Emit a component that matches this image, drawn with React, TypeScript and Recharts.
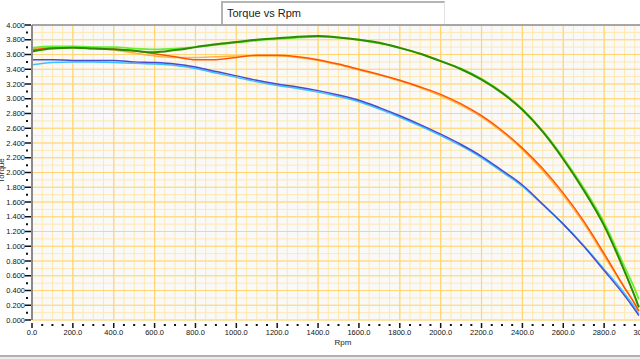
import { LineChart, Line, XAxis, YAxis, CartesianGrid, ReferenceLine } from "recharts";

// rpm sample points shared by every trace
const RPM = [
  0, 100, 200, 300, 400, 500, 600, 700, 800, 900, 1000, 1100, 1200, 1300, 1400, 1500,
  1600, 1700, 1800, 1900, 2000, 2100, 2200, 2300, 2400, 2500, 2600, 2700, 2800, 2900,
  2950, 2970,
];

const GREEN_DARK = [
  3.64, 3.68, 3.69, 3.68, 3.67, 3.65, 3.63, 3.66, 3.7, 3.74, 3.77, 3.8, 3.82, 3.84, 3.85, 3.83,
  3.8, 3.76, 3.69, 3.61, 3.51, 3.4, 3.26, 3.08, 2.85, 2.55, 2.18, 1.76, 1.28, 0.66, 0.32, 0.17,
];
const GREEN_LIGHT = [
  3.69, 3.71, 3.71, 3.7, 3.7, 3.68, 3.67, 3.68, 3.7, 3.73, 3.76, 3.79, 3.81, 3.83, 3.84, 3.83,
  3.8, 3.75, 3.69, 3.61, 3.51, 3.41, 3.27, 3.09, 2.86, 2.56, 2.2, 1.79, 1.32, 0.72, 0.42, 0.28,
];
const ORANGE = [
  3.66, 3.69, 3.7, 3.68, 3.67, 3.65, 3.61, 3.57, 3.53, 3.53, 3.56, 3.59, 3.59, 3.57, 3.53, 3.47,
  3.4, 3.33, 3.25, 3.16, 3.06, 2.93, 2.77, 2.57, 2.33, 2.05, 1.72, 1.34, 0.9, 0.44, 0.22, 0.12,
];
const ORANGE_LIGHT = [
  3.68, 3.7, 3.7, 3.69, 3.66, 3.62, 3.58, 3.56, 3.56, 3.57, 3.58, 3.58, 3.58, 3.56, 3.52, 3.46,
  3.39, 3.32, 3.24, 3.15, 3.04, 2.91, 2.75, 2.55, 2.31, 2.02, 1.69, 1.31, 0.87, 0.43, 0.22, 0.13,
];
const BLUE = [
  3.53, 3.53, 3.52, 3.52, 3.52, 3.5, 3.49, 3.47, 3.43, 3.37, 3.31, 3.25, 3.2, 3.16, 3.11, 3.05,
  2.98, 2.88, 2.77, 2.65, 2.52, 2.38, 2.22, 2.03, 1.83, 1.57, 1.3, 1.0, 0.67, 0.33, 0.14, 0.06,
];
const BLUE_LIGHT = [
  3.46, 3.49, 3.5, 3.5, 3.49, 3.48, 3.47, 3.45, 3.41, 3.35, 3.29, 3.23, 3.18, 3.14, 3.09, 3.03,
  2.96, 2.86, 2.75, 2.63, 2.5, 2.36, 2.2, 2.01, 1.81, 1.56, 1.3, 1.01, 0.69, 0.36, 0.17, 0.08,
];

const X_MAJOR = [
  0, 200, 400, 600, 800, 1000, 1200, 1400, 1600, 1800, 2000, 2200, 2400, 2600, 2800, 3000,
];
const Y_MAJOR = [
  0, 0.2, 0.4, 0.6, 0.8, 1.0, 1.2, 1.4, 1.6, 1.8, 2.0, 2.2, 2.4, 2.6, 2.8, 3.0, 3.2, 3.4, 3.6,
  3.8, 4.0,
];

// minor ticks: quarters between x majors, halves between y majors
const X_TICKS = X_MAJOR.flatMap((v, i) =>
  i < X_MAJOR.length - 1 ? [v, v + 50, v + 100, v + 150] : [v]
);
const Y_TICKS = Y_MAJOR.flatMap((v, i) =>
  i < Y_MAJOR.length - 1 ? [v, Math.round((v + 0.1) * 10) / 10] : [v]
);

const data = RPM.map((rpm, i) => ({
  rpm,
  g1: GREEN_DARK[i],
  g2: GREEN_LIGHT[i],
  o1: ORANGE[i],
  o2: ORANGE_LIGHT[i],
  b1: BLUE[i],
  b2: BLUE_LIGHT[i],
}));

const FONT = '"Liberation Sans", Arial, sans-serif';
const MINOR_GRID = "#ffe9b0";
const MAJOR_GRID = "#ffd673";

const isMajor = (list: number[], v: number) => list.some((m) => Math.abs(m - v) < 1e-6);

function YTick(props: any) {
  const { x, y, payload } = props;
  const v = payload.value as number;
  if (!isMajor(Y_MAJOR, v)) {
    return <line x1={x - 6} x2={x - 4} y1={y} y2={y} stroke="#111" strokeWidth={2} />;
  }
  return (
    <g>
      <line x1={x - 7} x2={x - 1} y1={y} y2={y} stroke="#111" strokeWidth={1.5} />
      <text x={x - 7} y={y} dy={2.7} textAnchor="end" fontSize={7.5} fill="#111" fontFamily={FONT}>
        {v.toFixed(3)}
      </text>
    </g>
  );
}

function XTick(props: any) {
  const { x, y, payload } = props;
  const v = payload.value as number;
  if (!isMajor(X_MAJOR, v)) {
    return <rect x={x - 1} y={y + 4} width={2} height={2} fill="#111" />;
  }
  return (
    <g>
      <line x1={x} x2={x} y1={y + 3} y2={y + 8} stroke="#111" strokeWidth={1.5} />
      <text x={x} y={y + 15} textAnchor="middle" fontSize={7.5} fill="#111" fontFamily={FONT}>
        {v.toFixed(1)}
      </text>
    </g>
  );
}

export default function App() {
  return (
    <div
      style={{
        position: "absolute",
        left: 0,
        top: 0,
        width: 640,
        height: 359,
        overflow: "hidden",
        background: "#fff",
        fontFamily: FONT,
      }}
    >
      <LineChart
        width={660}
        height={359}
        data={data}
        margin={{ top: 25, right: 15, bottom: 0, left: 0 }}
      >
        <CartesianGrid fill="#f9f9f9" stroke={MINOR_GRID} strokeWidth={1} />
        <CartesianGrid
          fill="none"
          stroke={MAJOR_GRID}
          strokeWidth={1.2}
          verticalValues={X_MAJOR}
          horizontalValues={Y_MAJOR}
        />
        <XAxis
          type="number"
          dataKey="rpm"
          domain={[0, 3000]}
          ticks={X_TICKS}
          interval={0}
          height={39}
          tickSize={0}
          tickMargin={0}
          axisLine={false}
          tickLine={false}
          tick={<XTick />}
          allowDataOverflow
        />
        <YAxis
          type="number"
          domain={[0, 4]}
          ticks={Y_TICKS}
          interval={0}
          width={32}
          tickSize={0}
          tickMargin={0}
          axisLine={{ stroke: "#8a8a8a", strokeWidth: 2 }}
          tickLine={false}
          tick={<YTick />}
          allowDataOverflow
        />
        <ReferenceLine y={4} stroke="#a6a6a6" strokeWidth={2} />
        <Line type="monotone" dataKey="b2" stroke="#3cc3ff" strokeWidth={1.5} dot={false} isAnimationActive={false} />
        <Line type="monotone" dataKey="b1" stroke="#4a4ad0" strokeWidth={1.5} dot={false} isAnimationActive={false} />
        <Line type="monotone" dataKey="o2" stroke="#ffb347" strokeWidth={1.5} dot={false} isAnimationActive={false} />
        <Line type="monotone" dataKey="o1" stroke="#ff5500" strokeWidth={1.5} dot={false} isAnimationActive={false} />
        <Line type="monotone" dataKey="g2" stroke="#66ee33" strokeWidth={1.8} dot={false} isAnimationActive={false} />
        <Line type="monotone" dataKey="g1" stroke="#2f8a00" strokeWidth={2} dot={false} isAnimationActive={false} />
      </LineChart>

      <div
        style={{
          position: "absolute",
          left: 221,
          top: 1,
          width: 217,
          height: 21,
          background: "#fff",
          borderTop: "2px solid #b4b4b4",
          borderLeft: "2px solid #b4b4b4",
          borderRight: "1px solid #e4e4e4",
          fontSize: 11,
          lineHeight: "21px",
          paddingLeft: 4,
          color: "#222",
          boxSizing: "content-box",
        }}
      >
        Torque vs Rpm
      </div>

      <div
        style={{
          position: "absolute",
          left: 0,
          width: 640,
          top: 338,
          textAlign: "center",
          fontSize: 8,
          color: "#222",
          paddingLeft: 46,
          boxSizing: "border-box",
        }}
      >
        Rpm
      </div>

      <div
        style={{
          position: "absolute",
          left: -19,
          top: 166,
          width: 40,
          textAlign: "center",
          fontSize: 8,
          color: "#222",
          transform: "rotate(-90deg)",
        }}
      >
        Torque
      </div>

      <div
        style={{
          position: "absolute",
          left: 0,
          top: 355,
          width: 640,
          height: 4,
          background: "#ececec",
          borderTop: "2px solid #b0b0b0",
        }}
      />
    </div>
  );
}
